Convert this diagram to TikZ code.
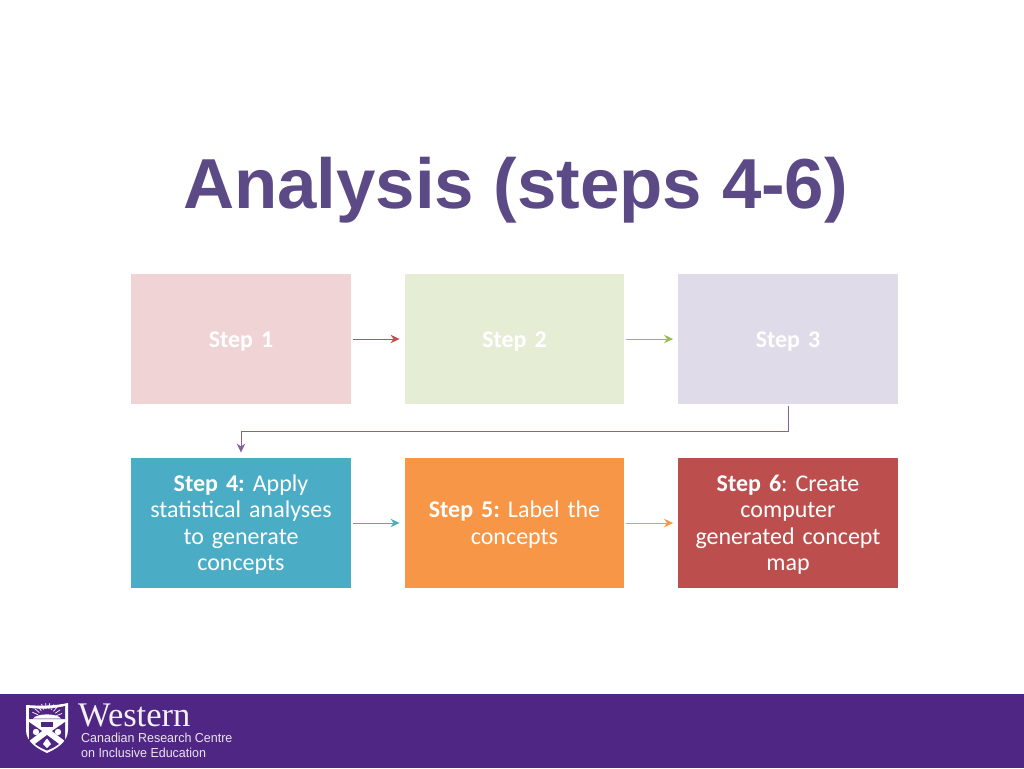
\documentclass[tikz,border=0pt]{standalone}
\usepackage{fontspec}
\setmainfont[WordSpace=0.5]{Carlito}
\newfontfamily\titlefont{Liberation Sans}
\newfontfamily\westfont{Liberation Serif}
\usetikzlibrary{arrows.meta}
\definecolor{titlec}{HTML}{5B4A85}
\definecolor{band}{HTML}{4F2683}
\definecolor{c1}{HTML}{F0D4D5}
\definecolor{c2}{HTML}{E5EDD5}
\definecolor{c3}{HTML}{DFDBE8}
\definecolor{c4}{HTML}{4BACC6}
\definecolor{c5}{HTML}{F79646}
\definecolor{c6}{HTML}{BC4F4D}
\definecolor{a1}{HTML}{C0504D}
\definecolor{a2}{HTML}{9BBB59}
\definecolor{a3}{HTML}{8064A2}
\tikzset{
 stepbox/.style={minimum width=219.5pt,minimum height=130.5pt,inner sep=0pt,text=white,align=center,
   font=\fontsize{24}{26.3}\selectfont\frenchspacing,text width=215pt,
   execute at begin node={\rule{0pt}{20pt}}},
 flow/.style={line width=1pt,-{Stealth[length=9pt,width=8.5pt,inset=3pt]},shorten <=2pt,shorten >=5pt},
 logosmall/.style={font=\titlefont\fontsize{13}{15}\selectfont,text=white!88!band,anchor=base west,inner sep=0pt,xscale=0.96}
}
\begin{document}
\begin{tikzpicture}[x=1pt,y=-1pt]
\useasboundingbox (0,0) rectangle (1024,768);
\fill[white] (0,0) rectangle (1024,768);
\node[font=\titlefont\bfseries\fontsize{70.8}{84}\selectfont,text=titlec,inner sep=0pt] (title) at (515.5,190) {Analysis (steps 4-6)};
\node[stepbox,fill=c1] (s1) at (241,339) {\textbf{Step 1}};
\node[stepbox,fill=c2] (s2) at (514.5,339) {\textbf{Step 2}};
\node[stepbox,fill=c3] (s3) at (788,339) {\textbf{Step 3}};
\node[stepbox,fill=c4] (s4) at (241,523) {\textbf{Step 4:} Apply\\statistical analyses\\to generate\\concepts};
\node[stepbox,fill=c5] (s5) at (514.5,523) {\textbf{Step 5:} Label the\\concepts};
\node[stepbox,fill=c6] (s6) at (788,523) {\textbf{Step 6}: Create\\computer\\generated concept\\map};
\draw[flow,a1] (s1) -- (s2);
\draw[flow,a2] (s2) -- (s3);
\draw[flow,c4] (s4) -- (s5);
\draw[flow,c5] (s5) -- (s6);
\coordinate (bend) at (500,431);
\draw[flow,a3] (s3.south) -- (s3.south |- bend) -- (s4.north |- bend) -- (s4.north);
% footer band
\fill[band] (0,694) rectangle (1024,768);
\fill[white] (26,705) .. controls (40,706) and (54,706) .. (68,703) -- (68,730) .. controls (68,742) and (56,749) .. (47,753) .. controls (38,749) and (26,742) .. (26,730) -- cycle;
\fill[band] (29,708) .. controls (41,709) and (53,709) .. (65,706) -- (65,719) -- (29,719) -- cycle;
\fill[white] (33,718.5) .. controls (37,713) and (57,713) .. (61,718.5) -- cycle;
\foreach \a in {20,35,...,160} \draw[white,line width=0.7pt] (47,719) ++(-\a:10) -- ++(-\a:6);
\fill[band] (29,722) -- (42,731) -- (29,741) -- cycle;
\fill[band] (65,722) -- (52,731) -- (65,741) -- cycle;
\fill[band] (47,735) -- (59,744) .. controls (55,747) and (51,749) .. (47,750.5) .. controls (43,749) and (39,747) .. (35,744) -- cycle;
\fill[band] (41,722) rectangle (53,727);
\fill[white] (36,732) circle (3.2);
\fill[white] (58,732) circle (3.2);
\fill[white] (47,748) -- (43,744) -- (45,741) -- (47,738.5) -- (49,741) -- (51,744) -- cycle;
\node[font=\westfont\fontsize{34.5}{34}\selectfont,text=white!93!band,anchor=base west,inner sep=0pt] (west) at (78,726.5) {Western};
\node[logosmall] (crc1) at (81,742.5) {Canadian Research Centre};
\node[logosmall] (crc2) at (81,757.5) {on Inclusive Education};
\end{tikzpicture}
\end{document}
